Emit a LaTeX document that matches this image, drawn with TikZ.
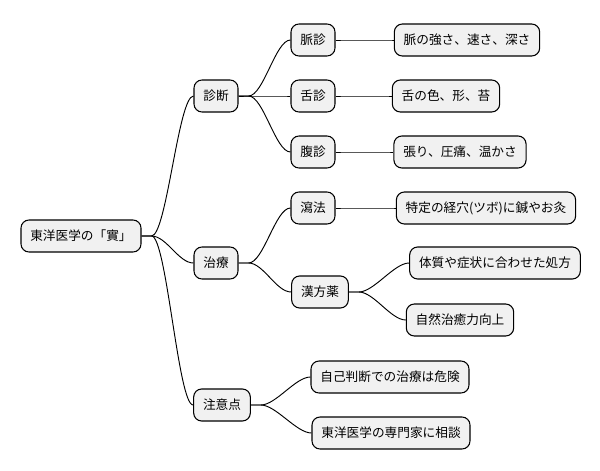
\documentclass[tikz,border=0pt]{standalone}
\usepackage{fontspec}
\setmainfont{Noto Sans CJK JP}
\usetikzlibrary{positioning}
\definecolor{boxfill}{RGB}{241,241,241}
\tikzset{
  topic/.style={draw=black, fill=boxfill, rounded corners=6pt, line width=0.8pt,
    minimum height=24pt, inner xsep=7pt, font=\fontsize{9.5pt}{11pt}\selectfont},
  branch/.style={line width=0.7pt}
}
\begin{document}
\begin{tikzpicture}[x=0.75pt,y=-0.75pt]
\useasboundingbox (0,0) rectangle (600,471);

% Root
\node[topic] (root) at (81,236) {東洋医学の「實」};

% Level 1
\node[topic] (shindan) at (216,96) {診断};
\node[topic] (chiryo) at (216,263) {治療};
\node[topic] (chui) at (222,405) {注意点};

% Level 2
\node[topic] (myaku) at (313,40) {脈診};
\node[topic] (zetsu) at (313,96) {舌診};
\node[topic] (fuku) at (313,152) {腹診};
\node[topic] (sha) at (313,208) {瀉法};
\node[topic] (kampo) at (320,292) {漢方薬};
\node[topic] (jiko) at (390,377) {自己判断での治療は危険};
\node[topic] (senmon) at (391,433) {東洋医学の専門家に相談};

% Level 3
\node[topic] (myakuT) at (467,40) {脈の強さ、速さ、深さ};
\node[topic] (zetsuT) at (446,96) {舌の色、形、苔};
\node[topic] (fukuT) at (460,152) {張り、圧痛、温かさ};
\node[topic] (shaT) at (486,208) {特定の経穴(ツボ)に鍼やお灸};
\node[topic] (taishitsu) at (495,263) {体質や症状に合わせた処方};
\node[topic] (shizen) at (460,320) {自然治癒力向上};

% Connectors
\foreach \a/\b in {root/shindan, root/chiryo, root/chui,
    shindan/myaku, shindan/zetsu, shindan/fuku,
    chiryo/sha, chiryo/kampo, chui/jiko, chui/senmon,
    myaku/myakuT, zetsu/zetsuT, fuku/fukuT, sha/shaT,
    kampo/taishitsu, kampo/shizen}
  \draw[branch] (\a.east) -- ++(10,0) .. controls +(15,0) and +(-15,0) .. (\b.west);
\end{tikzpicture}
\end{document}
